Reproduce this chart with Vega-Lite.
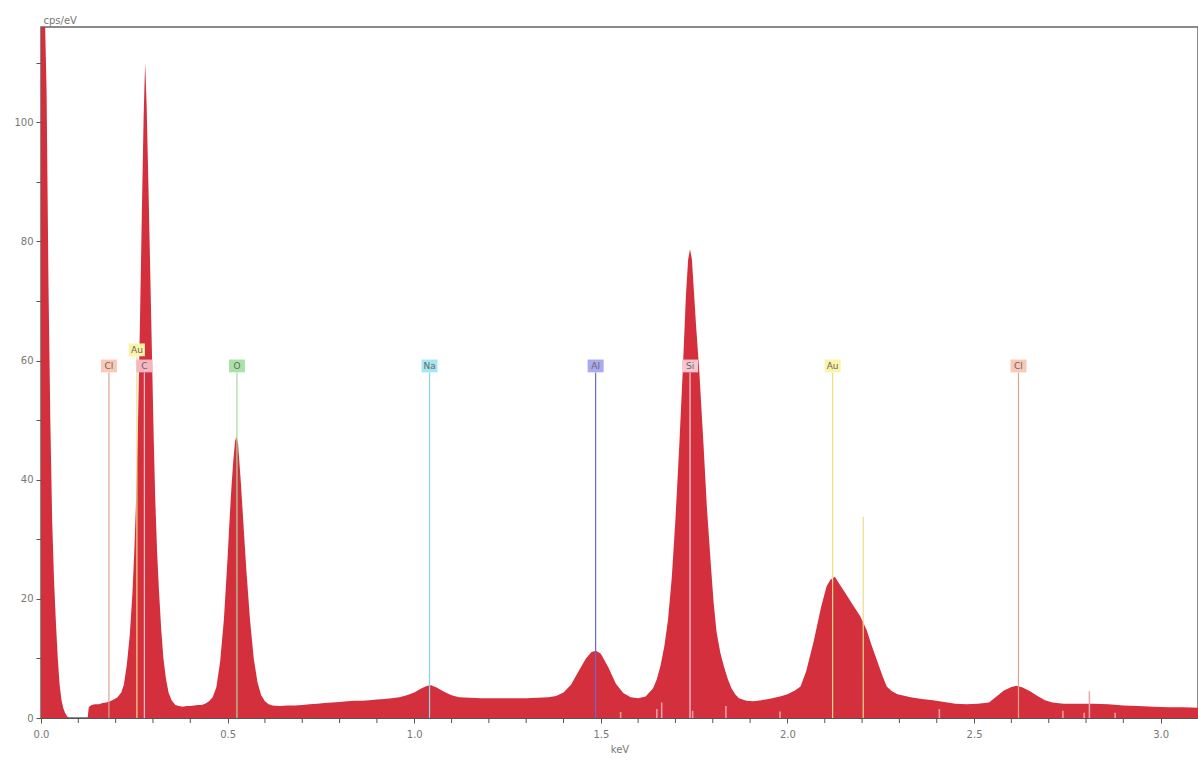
{
  "$schema": "https://vega.github.io/schema/vega-lite/v6.json",
  "width": 1157,
  "height": 691,
  "autosize": {"type": "none"},
  "padding": {"left": 41, "top": 27, "right": 0, "bottom": 42},
  "background": "white",
  "config": {
    "view": {"stroke": "#666", "strokeWidth": 1.5},
    "axis": {
      "domainColor": "#555",
      "tickColor": "#555",
      "tickSize": 5,
      "labelColor": "#777",
      "labelFont": "DejaVu Sans",
      "labelFontSize": 10,
      "titleFont": "DejaVu Sans",
      "titleFontSize": 10,
      "titleFontWeight": "normal",
      "titleColor": "#777",
      "grid": false,
      "labelOverlap": false,
      "labelFlush": false
    }
  },
  "datasets": {
    "spectrum": [
      {"energy": 0.000, "cps": 140}, {"energy": 0.008, "cps": 125}, {"energy": 0.015, "cps": 105},
      {"energy": 0.020, "cps": 73}, {"energy": 0.025, "cps": 50}, {"energy": 0.030, "cps": 33},
      {"energy": 0.035, "cps": 23}, {"energy": 0.040, "cps": 16}, {"energy": 0.045, "cps": 10},
      {"energy": 0.050, "cps": 5.5}, {"energy": 0.055, "cps": 3}, {"energy": 0.060, "cps": 1.6},
      {"energy": 0.065, "cps": 0.8}, {"energy": 0.070, "cps": 0.3}, {"energy": 0.075, "cps": 0},
      {"energy": 0.125, "cps": 0}, {"energy": 0.128, "cps": 1.8}, {"energy": 0.135, "cps": 2.2},
      {"energy": 0.145, "cps": 2.3}, {"energy": 0.155, "cps": 2.3}, {"energy": 0.165, "cps": 2.5},
      {"energy": 0.175, "cps": 2.6}, {"energy": 0.185, "cps": 2.8}, {"energy": 0.195, "cps": 3.1},
      {"energy": 0.205, "cps": 3.5}, {"energy": 0.215, "cps": 4.3}, {"energy": 0.222, "cps": 5.6},
      {"energy": 0.230, "cps": 9}, {"energy": 0.238, "cps": 14}, {"energy": 0.245, "cps": 21},
      {"energy": 0.250, "cps": 28}, {"energy": 0.255, "cps": 37}, {"energy": 0.260, "cps": 50},
      {"energy": 0.265, "cps": 66}, {"energy": 0.270, "cps": 84}, {"energy": 0.275, "cps": 101},
      {"energy": 0.279, "cps": 110}, {"energy": 0.283, "cps": 103}, {"energy": 0.288, "cps": 89},
      {"energy": 0.292, "cps": 77}, {"energy": 0.297, "cps": 62}, {"energy": 0.302, "cps": 47},
      {"energy": 0.306, "cps": 37}, {"energy": 0.311, "cps": 28}, {"energy": 0.316, "cps": 21.5},
      {"energy": 0.322, "cps": 15}, {"energy": 0.328, "cps": 10}, {"energy": 0.335, "cps": 6.5},
      {"energy": 0.342, "cps": 4.2}, {"energy": 0.350, "cps": 3.0}, {"energy": 0.360, "cps": 2.2},
      {"energy": 0.370, "cps": 2.0}, {"energy": 0.380, "cps": 1.9}, {"energy": 0.390, "cps": 2.0},
      {"energy": 0.400, "cps": 2.0}, {"energy": 0.410, "cps": 2.1}, {"energy": 0.420, "cps": 2.2},
      {"energy": 0.430, "cps": 2.2}, {"energy": 0.440, "cps": 2.4}, {"energy": 0.450, "cps": 2.8},
      {"energy": 0.460, "cps": 3.5}, {"energy": 0.470, "cps": 5.2}, {"energy": 0.480, "cps": 9.5},
      {"energy": 0.490, "cps": 16.5}, {"energy": 0.500, "cps": 27}, {"energy": 0.505, "cps": 33},
      {"energy": 0.510, "cps": 38.5}, {"energy": 0.515, "cps": 43}, {"energy": 0.520, "cps": 46.5},
      {"energy": 0.524, "cps": 47.2}, {"energy": 0.528, "cps": 46}, {"energy": 0.535, "cps": 40},
      {"energy": 0.542, "cps": 33}, {"energy": 0.550, "cps": 25}, {"energy": 0.560, "cps": 16.5},
      {"energy": 0.570, "cps": 10}, {"energy": 0.580, "cps": 6}, {"energy": 0.590, "cps": 3.8},
      {"energy": 0.600, "cps": 2.8}, {"energy": 0.610, "cps": 2.3}, {"energy": 0.620, "cps": 2.1},
      {"energy": 0.640, "cps": 2.0}, {"energy": 0.660, "cps": 2.1}, {"energy": 0.680, "cps": 2.1},
      {"energy": 0.700, "cps": 2.2}, {"energy": 0.720, "cps": 2.3}, {"energy": 0.740, "cps": 2.4},
      {"energy": 0.760, "cps": 2.5}, {"energy": 0.780, "cps": 2.6}, {"energy": 0.800, "cps": 2.7},
      {"energy": 0.820, "cps": 2.8}, {"energy": 0.840, "cps": 2.9}, {"energy": 0.860, "cps": 2.9},
      {"energy": 0.880, "cps": 3.0}, {"energy": 0.900, "cps": 3.1}, {"energy": 0.920, "cps": 3.2},
      {"energy": 0.940, "cps": 3.3}, {"energy": 0.960, "cps": 3.5}, {"energy": 0.980, "cps": 3.8},
      {"energy": 1.000, "cps": 4.3}, {"energy": 1.020, "cps": 5.0}, {"energy": 1.035, "cps": 5.4},
      {"energy": 1.045, "cps": 5.5}, {"energy": 1.060, "cps": 5.1}, {"energy": 1.080, "cps": 4.4},
      {"energy": 1.100, "cps": 3.8}, {"energy": 1.120, "cps": 3.5}, {"energy": 1.150, "cps": 3.4},
      {"energy": 1.180, "cps": 3.3}, {"energy": 1.210, "cps": 3.3}, {"energy": 1.240, "cps": 3.3},
      {"energy": 1.270, "cps": 3.3}, {"energy": 1.300, "cps": 3.3}, {"energy": 1.330, "cps": 3.4},
      {"energy": 1.360, "cps": 3.5}, {"energy": 1.380, "cps": 3.7}, {"energy": 1.400, "cps": 4.3},
      {"energy": 1.420, "cps": 5.6}, {"energy": 1.440, "cps": 7.8}, {"energy": 1.460, "cps": 10.0},
      {"energy": 1.475, "cps": 11.1}, {"energy": 1.487, "cps": 11.3}, {"energy": 1.500, "cps": 10.8},
      {"energy": 1.520, "cps": 8.5}, {"energy": 1.540, "cps": 5.8}, {"energy": 1.560, "cps": 4.2},
      {"energy": 1.580, "cps": 3.5}, {"energy": 1.600, "cps": 3.3}, {"energy": 1.620, "cps": 3.6},
      {"energy": 1.640, "cps": 5.0}, {"energy": 1.650, "cps": 6.5}, {"energy": 1.660, "cps": 8.8},
      {"energy": 1.670, "cps": 12}, {"energy": 1.680, "cps": 16.5}, {"energy": 1.690, "cps": 23.5},
      {"energy": 1.700, "cps": 33.5}, {"energy": 1.710, "cps": 45.5}, {"energy": 1.720, "cps": 59},
      {"energy": 1.728, "cps": 71}, {"energy": 1.734, "cps": 77}, {"energy": 1.739, "cps": 78.7},
      {"energy": 1.744, "cps": 77}, {"energy": 1.750, "cps": 71},
      {"energy": 1.755, "cps": 66}, {"energy": 1.764, "cps": 58}, {"energy": 1.775, "cps": 46},
      {"energy": 1.784, "cps": 35.5}, {"energy": 1.795, "cps": 25.5}, {"energy": 1.802, "cps": 19.5},
      {"energy": 1.810, "cps": 14.5}, {"energy": 1.820, "cps": 11}, {"energy": 1.830, "cps": 8.6},
      {"energy": 1.840, "cps": 6.6}, {"energy": 1.850, "cps": 5.0}, {"energy": 1.860, "cps": 4.0},
      {"energy": 1.870, "cps": 3.3}, {"energy": 1.890, "cps": 2.9}, {"energy": 1.910, "cps": 2.8},
      {"energy": 1.930, "cps": 3.0}, {"energy": 1.950, "cps": 3.2}, {"energy": 1.980, "cps": 3.6},
      {"energy": 2.000, "cps": 4.0}, {"energy": 2.020, "cps": 4.6}, {"energy": 2.035, "cps": 5.3},
      {"energy": 2.050, "cps": 7.8}, {"energy": 2.070, "cps": 12.8}, {"energy": 2.090, "cps": 18.6},
      {"energy": 2.105, "cps": 22.1}, {"energy": 2.115, "cps": 23.2}, {"energy": 2.127, "cps": 23.7},
      {"energy": 2.140, "cps": 22.4}, {"energy": 2.155, "cps": 21}, {"energy": 2.172, "cps": 19.3},
      {"energy": 2.195, "cps": 17.1}, {"energy": 2.212, "cps": 14.8}, {"energy": 2.225, "cps": 12.3},
      {"energy": 2.239, "cps": 9.8}, {"energy": 2.255, "cps": 7}, {"energy": 2.266, "cps": 5.3},
      {"energy": 2.280, "cps": 4.5}, {"energy": 2.295, "cps": 4.0}, {"energy": 2.330, "cps": 3.5},
      {"energy": 2.360, "cps": 3.2}, {"energy": 2.390, "cps": 3.0}, {"energy": 2.420, "cps": 2.7},
      {"energy": 2.450, "cps": 2.4}, {"energy": 2.480, "cps": 2.3}, {"energy": 2.510, "cps": 2.4},
      {"energy": 2.540, "cps": 2.6}, {"energy": 2.560, "cps": 3.6}, {"energy": 2.580, "cps": 4.6},
      {"energy": 2.600, "cps": 5.2}, {"energy": 2.614, "cps": 5.4}, {"energy": 2.630, "cps": 5.1},
      {"energy": 2.650, "cps": 4.5}, {"energy": 2.670, "cps": 3.7}, {"energy": 2.690, "cps": 3.0},
      {"energy": 2.710, "cps": 2.6}, {"energy": 2.740, "cps": 2.4}, {"energy": 2.780, "cps": 2.4},
      {"energy": 2.820, "cps": 2.4}, {"energy": 2.860, "cps": 2.3}, {"energy": 2.900, "cps": 2.1},
      {"energy": 2.940, "cps": 2.0}, {"energy": 2.980, "cps": 1.9}, {"energy": 3.020, "cps": 1.8},
      {"energy": 3.060, "cps": 1.8}, {"energy": 3.100, "cps": 1.7}
    ],
    "markers": [
      {"element": "Cl", "energy": 0.182, "lineTop": 58.0, "labelY": 59.1, "labelled": true},
      {"element": "Au", "energy": 0.257, "lineTop": 60.7, "labelY": 61.8, "labelled": true},
      {"element": "C", "energy": 0.277, "lineTop": 58.0, "labelY": 59.1, "labelled": true},
      {"element": "O", "energy": 0.525, "lineTop": 58.0, "labelY": 59.1, "labelled": true},
      {"element": "Na", "energy": 1.041, "lineTop": 58.0, "labelY": 59.1, "labelled": true},
      {"element": "Al", "energy": 1.486, "lineTop": 58.0, "labelY": 59.1, "labelled": true},
      {"element": "Si", "energy": 1.739, "lineTop": 58.0, "labelY": 59.1, "labelled": true},
      {"element": "Au", "energy": 2.121, "lineTop": 58.0, "labelY": 59.1, "labelled": true},
      {"element": "Au", "energy": 2.203, "lineTop": 33.8, "labelY": null, "labelled": false},
      {"element": "Cl", "energy": 2.619, "lineTop": 58.0, "labelY": 59.1, "labelled": true}
    ],
    "slivers": [
      {"energy": 1.553, "top": 1.0}, {"energy": 1.650, "top": 1.5}, {"energy": 1.663, "top": 2.6},
      {"energy": 1.746, "top": 1.2}, {"energy": 1.835, "top": 2.0}, {"energy": 1.980, "top": 1.1},
      {"energy": 2.407, "top": 1.5}, {"energy": 2.738, "top": 1.2}, {"energy": 2.795, "top": 0.9},
      {"energy": 2.809, "top": 4.5}, {"energy": 2.878, "top": 0.9}
    ],
    "minorTicks": [
      {"energy": 0.1}, {"energy": 0.2}, {"energy": 0.3}, {"energy": 0.4},
      {"energy": 0.6}, {"energy": 0.7}, {"energy": 0.8}, {"energy": 0.9},
      {"energy": 1.1}, {"energy": 1.2}, {"energy": 1.3}, {"energy": 1.4},
      {"energy": 1.6}, {"energy": 1.7}, {"energy": 1.8}, {"energy": 1.9},
      {"energy": 2.1}, {"energy": 2.2}, {"energy": 2.3}, {"energy": 2.4},
      {"energy": 2.6}, {"energy": 2.7}, {"energy": 2.8}, {"energy": 2.9}
    ]
  },
  "layer": [
    {
      "data": {"name": "spectrum"},
      "mark": {"type": "area", "color": "#d42f3d", "clip": true, "interpolate": "linear"},
      "encoding": {
        "x": {
          "field": "energy", "type": "quantitative",
          "scale": {"domain": [0, 3.1], "nice": false, "zero": false},
          "axis": {
            "title": "keV",
            "titlePadding": 5,
            "labelOverlap": false,
            "labelFlush": false,
            "format": ".1f",
            "values": [0, 0.5, 1, 1.5, 2, 2.5, 3],
            "labelPadding": 6
          }
        },
        "y": {
          "field": "cps", "type": "quantitative",
          "scale": {"domain": [0, 116], "nice": false},
          "axis": {
            "title": "cps/eV",
            "titleAngle": 0,
            "titleAlign": "left",
            "titleBaseline": "alphabetic",
            "titleX": 2,
            "titleY": -4,
            "labelOverlap": false,
            "values": [0,5,10,15,20,25,30,35,40,45,50,55,60,65,70,75,80,85,90,95,100,105,110,115],
            "labelExpr": "datum.value % 20 === 0 ? datum.label : ''",
            "labelPadding": 3
          }
        }
      }
    },
    {
      "data": {"name": "minorTicks"},
      "mark": {"type": "rule", "color": "#555", "strokeWidth": 1, "clip": false},
      "encoding": {
        "x": {"field": "energy", "type": "quantitative"},
        "y": {"datum": 0},
        "y2": {"datum": -0.84}
      }
    },
    {
      "data": {"name": "slivers"},
      "mark": {"type": "rule", "color": "#f3a3ab", "strokeWidth": 1.5},
      "encoding": {
        "x": {"field": "energy", "type": "quantitative"},
        "y": {"field": "top", "type": "quantitative"},
        "y2": {"datum": 0}
      }
    },
    {
      "data": {"name": "markers"},
      "mark": {"type": "rule", "strokeWidth": 1.2},
      "encoding": {
        "x": {"field": "energy", "type": "quantitative"},
        "y": {"field": "lineTop", "type": "quantitative"},
        "y2": {"datum": 0},
        "stroke": {
          "field": "element", "type": "nominal", "legend": null,
          "scale": {
            "domain": ["Cl", "Au", "C", "O", "Na", "Al", "Si"],
            "range": ["#dca48c", "#f0dc8a", "#f4c2ca", "#a8d8a0", "#86d4e4", "#6a6ac4", "#f6d2da"]
          }
        }
      }
    },
    {
      "data": {"name": "markers"},
      "transform": [{"filter": "datum.labelled"}],
      "mark": {"type": "point", "filled": true, "opacity": 1, "shape": "M-1,-0.8H1V0.8H-1Z", "size": 256},
      "encoding": {
        "x": {"field": "energy", "type": "quantitative"},
        "y": {"field": "labelY", "type": "quantitative"},
        "fill": {
          "field": "element", "type": "nominal", "legend": null,
          "scale": {
            "domain": ["Cl", "Au", "C", "O", "Na", "Al", "Si"],
            "range": ["#f9c9b5", "#fbf4a6", "#f6b6bf", "#a9e2a9", "#a6e6f0", "#aaaaee", "#f7c6d0"]
          }
        }
      }
    },
    {
      "data": {"name": "markers"},
      "transform": [{"filter": "datum.labelled"}],
      "mark": {"type": "text", "font": "DejaVu Sans", "fontSize": 9, "color": "#666", "align": "center", "baseline": "middle"},
      "encoding": {
        "x": {"field": "energy", "type": "quantitative"},
        "y": {"field": "labelY", "type": "quantitative"},
        "text": {"field": "element", "type": "nominal"}
      }
    }
  ]
}
